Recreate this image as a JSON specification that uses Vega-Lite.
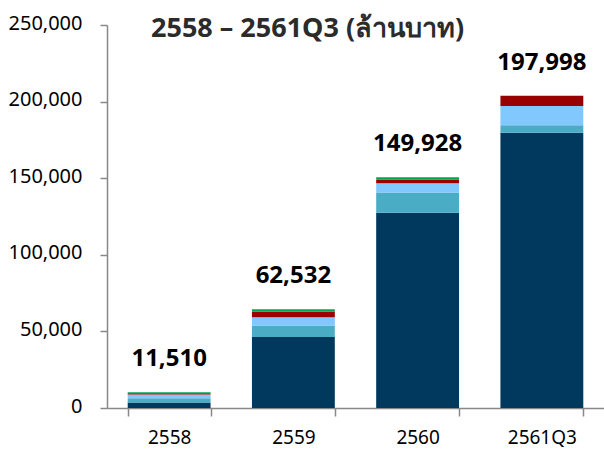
{
  "$schema": "https://vega.github.io/schema/vega-lite/v6.json",
  "autosize": "none",
  "width": 497,
  "height": 383,
  "padding": {"left": 107, "top": 25, "right": 0, "bottom": 41},
  "background": "white",
  "title": {
    "text": "2558 – 2561Q3 (ล้านบาท)",
    "anchor": "start",
    "frame": "group",
    "dx": 44,
    "dy": 34,
    "font": "Noto Sans",
    "fontSize": 27,
    "fontWeight": "bold",
    "color": "#2b2b2b"
  },
  "config": {
    "view": {"stroke": null},
    "axis": {
      "labelFont": "Noto Sans",
      "labelColor": "#000000",
      "domainColor": "#888888",
      "tickColor": "#888888",
      "domainWidth": 1.5,
      "tickWidth": 1.5,
      "grid": false,
      "title": null
    }
  },
  "data": {
    "values": [
      {"year": "2558", "series": "s1", "value": 3600, "label": 11510},
      {"year": "2558", "series": "s2", "value": 2800, "label": 11510},
      {"year": "2558", "series": "s3", "value": 2400, "label": 11510},
      {"year": "2558", "series": "s4", "value": 900, "label": 11510},
      {"year": "2558", "series": "s5", "value": 600, "label": 11510},
      {"year": "2559", "series": "s1", "value": 46400, "label": 62532},
      {"year": "2559", "series": "s2", "value": 7500, "label": 62532},
      {"year": "2559", "series": "s3", "value": 5400, "label": 62532},
      {"year": "2559", "series": "s4", "value": 3500, "label": 62532},
      {"year": "2559", "series": "s5", "value": 1600, "label": 62532},
      {"year": "2560", "series": "s1", "value": 127500, "label": 149928},
      {"year": "2560", "series": "s2", "value": 13100, "label": 149928},
      {"year": "2560", "series": "s3", "value": 6100, "label": 149928},
      {"year": "2560", "series": "s4", "value": 2400, "label": 149928},
      {"year": "2560", "series": "s5", "value": 1500, "label": 149928},
      {"year": "2561Q3", "series": "s1", "value": 179700, "label": 197998},
      {"year": "2561Q3", "series": "s2", "value": 4800, "label": 197998},
      {"year": "2561Q3", "series": "s3", "value": 12700, "label": 197998},
      {"year": "2561Q3", "series": "s4", "value": 6700, "label": 197998}
    ]
  },
  "encoding": {
    "x": {
      "field": "year",
      "type": "nominal",
      "sort": null,
      "scale": {"paddingInner": 0.333, "paddingOuter": 0.1667},
      "axis": {
        "labelAngle": 0,
        "labelFontSize": 19,
        "tickBand": "extent",
        "tickSize": 8,
        "labelPadding": 12
      }
    }
  },
  "layer": [
    {
      "mark": {"type": "bar"},
      "encoding": {
        "y": {
          "field": "value",
          "type": "quantitative",
          "stack": "zero",
          "scale": {"domain": [0, 250000], "nice": false},
          "axis": {
            "values": [0, 50000, 100000, 150000, 200000, 250000],
            "format": ",d",
            "labelFontSize": 20,
            "tickSize": 7,
            "labelPadding": 18,
            "labelOffset": -2
          }
        },
        "color": {
          "field": "series",
          "type": "nominal",
          "scale": {
            "domain": ["s1", "s2", "s3", "s4", "s5"],
            "range": ["#00385E", "#4BACC6", "#80C8FF", "#990000", "#00A651"]
          },
          "legend": null
        },
        "order": {"field": "series", "sort": "ascending"}
      }
    },
    {
      "transform": [
        {
          "aggregate": [
            {"op": "sum", "field": "value", "as": "top"},
            {"op": "max", "field": "label", "as": "label"}
          ],
          "groupby": ["year"]
        }
      ],
      "mark": {
        "type": "text",
        "font": "Noto Sans",
        "fontSize": 24,
        "fontWeight": "bold",
        "color": "#000000",
        "baseline": "alphabetic",
        "dy": -26
      },
      "encoding": {
        "y": {"field": "top", "type": "quantitative"},
        "text": {"field": "label", "type": "quantitative", "format": ",d"}
      }
    }
  ]
}
